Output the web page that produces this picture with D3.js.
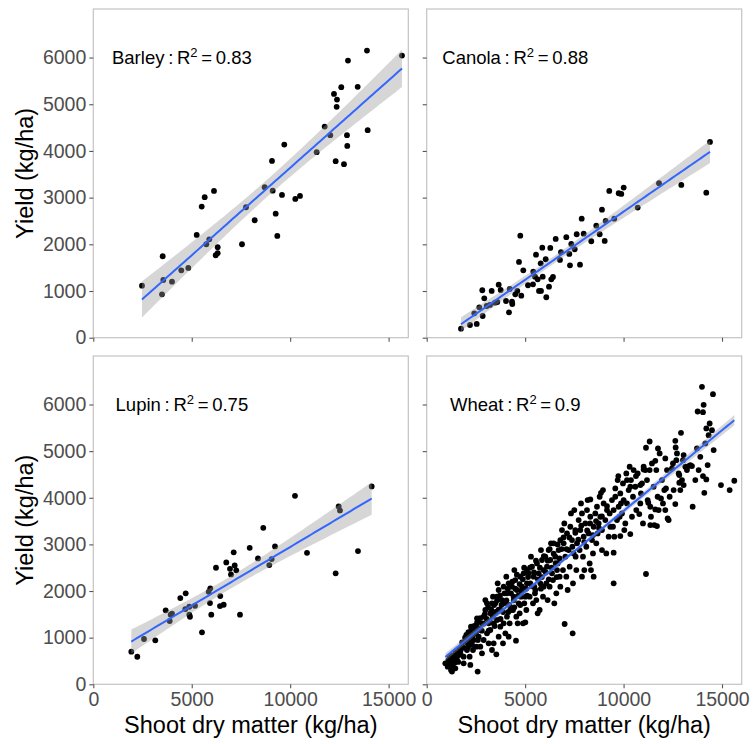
<!DOCTYPE html>
<html><head><meta charset="utf-8">
<script src="https://cdn.jsdelivr.net/npm/d3@7"></script>
<style>body{margin:0;background:#fff} svg text{font-family:"Liberation Sans",Arial,sans-serif}</style>
</head><body><svg id="c" width="755" height="744"></svg>
<script>
const crops = ["Barley", "Canola", "Lupin", "Wheat"];
const r2Labels = ["0.83", "0.88", "0.75", "0.9"];
const xTicks = [0, 5000, 10000, 15000];
const yTicks = [0, 1000, 2000, 3000, 4000, 5000, 6000];
const xTitle = "Shoot dry matter (kg/ha)";
const yTitle = "Yield (kg/ha)";

const barley = [[2473,1114],[3525,1744],[3556,1236],[3490,930],[3997,1200],[4470,1444],[4825,1494],[5252,2201],[5506,2808],[5658,3009],[6130,3144],[5740,2001],[5892,2108],[6318,1937],[6217,1766],[6318,1809],[7553,2001],[7756,2794],[8197,2516],[8705,3223],[9076,3787],[9112,3150],[9264,2657],[9346,2179],[9584,3058],[9701,4136],[10260,2972],[10498,3037],[11346,3973],[11752,4522],[12037,4337],[12225,5222],[12378,5101],[12361,4944],[12595,5366],[12311,3780],[12733,3716],[12885,4337],[12900,4108],[12936,5936],[13429,5373],[13901,6150],[13937,4445],[15679,6043]];

const canola = [[1742,193],[2199,272],[2540,294],[2418,523],[2844,465],[2672,651],[2926,844],[2824,1016],[3215,701],[3301,1001],[3586,765],[3657,1136],[3758,1022],[4028,786],[4180,544],[4216,1044],[4333,771],[4348,722],[4500,930],[4602,1001],[4805,900],[4688,1622],[4754,2186],[4906,1444],[5145,1123],[5399,1144],[5414,1414],[5501,1307],[5552,1779],[5638,1251],[5704,1001],[5790,1594],[5805,1001],[5871,1929],[5892,1307],[6044,1680],[6075,866],[6212,1093],[6278,1922],[6329,1251],[6415,1301],[6552,2115],[6770,1665],[6821,1830],[7091,2152],[7243,1794],[7278,1551],[7344,2008],[7517,1894],[7619,2216],[7786,1564],[7873,2550],[7974,2229],[8360,2066],[8614,2400],[8787,2216],[8903,2743],[9041,2072],[9091,2501],[9274,3144],[9528,2550],[9752,3094],[9884,3080],[10006,3215],[10717,2786],[11799,3309],[12932,3272],[14201,3107],[14389,4194],[3047,679],[3469,750]];

const lupin = [[1930,699],[2235,591],[2575,971],[3149,943],[3677,1586],[3880,1357],[3997,1513],[3931,1492],[4419,1849],[4693,1950],[4673,1614],[4876,1663],[4911,1449],[4876,1492],[5165,1684],[5521,1114],[5861,1984],[5943,2057],[5927,1742],[5993,1492],[6450,1892],[6435,1678],[6623,1706],[6232,2499],[6755,2614],[6943,2477],[6994,2357],[7131,2829],[7182,2550],[7263,2443],[7451,1492],[7944,2927],[8365,2700],[8634,3356],[8939,2557],[9061,2685],[9229,2957],[10244,4042],[10854,2820],[12311,2379],[12463,3815],[12530,3729],[13444,2857],[14140,4243]];

const wheat = [
[13982,6379],[14541,6222],[14067,5993],[13762,5850],[14033,5836],[14372,5593],[14203,5486],[12916,5393],[12628,5222],[11324,5207],[11138,5072],[12645,5079],[11747,5057],[14575,5022],[13051,4915],[12120,4843],[11612,4793],[12509,4736],[10308,4665],[11019,4607],[11324,4593],[13305,4679],[13474,4679],[12831,4486],[14033,4465],[14203,4393],[15624,4365],[14947,4272],[15387,4165],[14101,4107],[9733,4465],[10173,4379],[10630,4465],[12154,4200],[12831,4322],[13051,4272],[8853,4107],[9580,4200],[10342,4236],[10850,4272],[8311,3965],[9157,3822],[9868,3879],[11256,3893],[11900,3986],[12628,3865],[13508,3807],[10799,3650],[11612,3750],[12238,3557],[11358,3414],[11697,3393],[10342,3222],[9834,3179],[9496,2822],[8903,2879],[11138,2365],[9496,2165],[7007,1293],[7413,1093],[2588,272],[2216,415],[3537,643],[4535,936],[5009,1329],
[946,450],[1065,379],[1200,522],[1285,272],[1369,450],[1166,593],[1539,522],[1623,629],[1708,700],[1454,343],[1234,307],[1115,486],
[1793,807],[1877,593],[1962,915],[2047,736],[2131,1022],[2216,879],[2301,1093],[2385,950],[2470,1164],[1877,450],[2182,593],[2351,736],[2521,807],[2013,1057],[2250,1236],[2555,1307],[2555,1414],
[2639,1022],[2724,1165],[2808,1307],[2893,1450],[2978,1593],[3062,1736],[3147,1307],[3232,1522],[3316,1736],[2724,807],[2893,950],[3062,1093],[3232,1165],[3401,1307],[3147,879],[3401,879],[2808,664],[3316,736],[2978,1807],[3367,1879],
[3486,1736],[3570,1879],[3655,2022],[3740,1593],[3824,1807],[3909,2093],[3994,1736],[4078,1950],[4163,2165],[4248,1593],[3570,1379],[3740,1236],[3909,1307],[4078,1450],[4214,1307],[3655,1022],[3994,1093],[4163,1022],[3875,879],[3486,1522],[4044,2307],[3604,2165],
[4332,2093],[4417,1879],[4501,2236],[4586,2022],[4671,1736],[4755,2307],[4840,2093],[4925,2379],[5009,1879],[5094,2165],[4383,1593],[4552,1450],[4722,1522],[4891,1307],[5060,1593],[4451,2450],[4958,1736],[4789,1879],[4620,1307],[5094,2450],
[5179,2379],[5263,2165],[5348,2522],[5433,2307],[5517,2022],[5602,2593],[5687,2379],[5771,2165],[5856,2665],[5941,2450],[5229,1879],[5399,1736],[5568,1807],[5737,1593],[5907,1879],[5297,2736],[5805,2879],[5466,2093],[5636,1522],[5941,2093],
[6025,2736],[6110,2522],[6194,2879],[6279,2665],[6364,2379],[6448,3022],[6533,2736],[6618,2450],[6702,2879],[6787,3093],[6076,2165],[6245,2093],[6415,2236],[6584,1950],[6753,2307],[6143,1807],[6313,3022],[6651,2593],[6482,1736],[6787,2093],
[6872,3307],[6956,3022],[7041,2736],[7126,3236],[7210,2879],[7295,3379],[7380,3093],[7464,2807],[7549,3307],[7634,3022],[6922,2450],[7092,2307],[7261,2522],[7430,2165],[7600,2450],[6990,3450],[7329,3665],[7498,3736],[7159,2022],[7566,2736],
[7718,3522],[7803,3307],[7887,3665],[7972,3165],[8057,3450],[8141,3736],[8226,3236],[8311,3593],[8395,3093],[8480,3379],[7769,2879],[7938,2736],[8107,2950],[8277,2593],[8446,2807],[7837,3879],[8175,3950],[8345,2450],[8006,2450],[8480,2307],[7887,2307],
[8565,3665],[8649,3807],[8734,3450],[8819,3593],[8903,3307],[8988,3879],[9073,3522],[9157,3736],[9242,3165],[9327,3379],[8615,3022],[8785,4022],[8954,4165],[9123,2807],[9293,3665],[8683,3236],
[9411,3950],[9496,3736],[9580,4022],[9665,3522],[9750,3807],[9834,4093],[9919,3665],[10004,3950],[10088,3450],[10173,3879],[9462,3379],[9970,4307],[10139,4522],[9699,4379],[9530,3165],[10037,3307],[9801,3593],
[10258,4165],[10376,4379],[10478,4022],[10596,4236],[10715,4522],[10850,3879],[10935,4307],[11019,4665],[10647,3736],[10427,3593],[10884,4093],[10986,3450],[10511,4593],
[11104,4593],[11189,4379],[11223,3950],[11358,3807],[11443,4736],[11527,4236],[11663,4593],[11781,3736],[11832,4950],[11392,3593],[11561,3415],[11730,4022],
[11951,4379],[12069,4165],[12205,4593],[12340,4022],[12459,4629],[12543,4165],[12679,4807],[12797,4522],[12882,4165],[12967,4379],[13136,4665],[13220,4593],[13390,4700],[12120,3736],[12290,3522],[12001,3879],[12713,4950],[13017,4807],
[13728,5057],[13897,4879],[14151,5165],[14321,5343],[14490,5450],[13813,4593],[14270,4700],[13644,4379],
[1100,520],[1180,430],[1250,560],[1320,620],[1400,560],[1480,690],[1560,610],[1650,760],[1720,640],[1800,900],[1880,780],[1950,1000],[1300,380],[1420,470],[1600,480],
[2050,900],[2120,1120],[2200,980],[2280,1180],[2350,1050],[2420,1250],[2500,1100],[2580,1350],[2650,1200],[2720,1420],[2800,1150],[2880,1300],[2950,1500],[2100,800],[2300,850],[2600,950],
[3050,1400],[3120,1650],[3200,1350],[3280,1600],[3350,1450],[3420,1700],[3500,1550],[3580,1800],[3650,1600],[3720,1900],[3800,1700],[3880,1550],[3950,1950],[3150,1150],[3450,1250],[3750,1400],
[4050,1800],[4120,2050],[4200,1700],[4280,1950],[4350,2200],[4420,1800],[4500,2050],[4580,2350],[4650,1900],[4720,2150],[4800,2000],[4880,2250],[4950,2500],[4150,1550],[4450,1650],[4750,1700],
[5050,2050],[5150,2300],[5250,2500],[5350,2100],[5450,2400],[5550,2650],[5650,2250],[5750,2500],[5850,2300],[5950,2750],[5100,1900],[5500,1950],[5800,2050],
[6050,2400],[6150,2650],[6250,2900],[6350,2500],[6450,2800],[6550,2600],[6650,3000],[6750,2700],[6850,2900],[6950,3150],[6200,2250],[6600,2300],
[7100,2900],[7250,3150],[7400,2950],[7550,3250],[7700,3100],[7850,3400],[8000,3050],[8150,3300],[8300,3450],[8450,3200],[8600,3500],[8750,3350],[8900,3600]
];

const datasets = [barley, canola, lupin, wheat];

const svg = d3.select("#c");
const cols = [[93.3, 408.3], [426.7, 741.7]];
const rows = [[9, 337.7], [356, 684.3]];
const xDomain = [0, 16000], yDomain = [0, 7040];

function tq(df) {
  const z = 1.959964;
  return z + (z**3 + z) / (4 * df) + (5 * z**5 + 16 * z**3 + 3 * z) / (96 * df * df)
    + (3 * z**7 + 19 * z**5 + 17 * z**3 - 15 * z) / (384 * df ** 3);
}
function lmFit(pts) {
  const n = pts.length;
  const mx = d3.mean(pts, d => d[0]), my = d3.mean(pts, d => d[1]);
  let sxx = 0, sxy = 0;
  pts.forEach(d => { sxx += (d[0] - mx) ** 2; sxy += (d[0] - mx) * (d[1] - my); });
  const b = sxy / sxx, a = my - b * mx;
  let sse = 0;
  pts.forEach(d => { sse += (d[1] - a - b * d[0]) ** 2; });
  const s = Math.sqrt(sse / (n - 2));
  const t = tq(n - 2);
  const [x0, x1] = d3.extent(pts, d => d[0]);
  return d3.range(81).map(i => {
    const xv = x0 + (x1 - x0) * i / 80;
    const yv = a + b * xv;
    const se = s * Math.sqrt(1 / n + (xv - mx) ** 2 / sxx);
    return { x: xv, y: yv, lo: yv - t * se, hi: yv + t * se };
  });
}

datasets.forEach((pts, i) => {
  const c = i % 2, r = Math.floor(i / 2);
  const x = d3.scaleLinear().domain(xDomain).range(cols[c]);
  const y = d3.scaleLinear().domain(yDomain).range([rows[r][1], rows[r][0]]);
  const g = svg.append("g");

  g.append("g").selectAll("circle").data(pts).join("circle")
    .attr("cx", d => x(d[0])).attr("cy", d => y(d[1])).attr("r", 2.9).attr("fill", "#000");

  const f = lmFit(pts);
  g.append("path").datum(f)
    .attr("d", d3.area().x(d => x(d.x)).y0(d => y(d.lo)).y1(d => y(d.hi)))
    .attr("fill", "#999999").attr("fill-opacity", 0.4);
  g.append("path").datum(f)
    .attr("d", d3.line().x(d => x(d.x)).y(d => y(d.y)))
    .attr("fill", "none").attr("stroke", "#3366FF").attr("stroke-width", 2);

  g.append("rect").attr("x", cols[c][0]).attr("y", rows[r][0])
    .attr("width", cols[c][1] - cols[c][0]).attr("height", rows[r][1] - rows[r][0])
    .attr("fill", "none").attr("stroke", "#c4c4c4").attr("stroke-width", 1.2);

  const ay = g.append("g").attr("transform", `translate(${cols[c][0]},0)`)
    .call(d3.axisLeft(y).tickValues(yTicks).tickSize(4).tickPadding(3)
      .tickFormat(c === 0 ? d3.format("d") : () => ""));
  const ax = g.append("g").attr("transform", `translate(0,${rows[r][1]})`)
    .call(d3.axisBottom(x).tickValues(xTicks).tickSize(4).tickPadding(4)
      .tickFormat(r === 1 ? d3.format("d") : () => ""));
  [ax, ay].forEach(a => {
    a.select(".domain").remove();
    a.selectAll("line").attr("stroke", "#555").attr("stroke-width", 1.1);
    a.selectAll("text").attr("fill", "#4d4d4d").attr("font-size", 19.5)
      .attr("font-family", '"Liberation Sans", Arial, sans-serif');
  });

  const lab = g.append("text").attr("x", x(4500)).attr("y", y(6000) + 6.6)
    .attr("text-anchor", "middle").attr("font-size", 18.5).attr("fill", "#000");
  lab.append("tspan").text(`${crops[i]}\u2009:\u2009R`);
  lab.append("tspan").attr("dy", -7.5).attr("font-size", 13).text("2");
  lab.append("tspan").attr("dy", 7.5).text(`\u2009=\u2009${r2Labels[i]}`);

  if (c === 0) {
    svg.append("text").attr("transform", `translate(32.5,${(rows[r][0] + rows[r][1]) / 2}) rotate(-90)`)
      .attr("text-anchor", "middle").attr("font-size", 23.5).attr("fill", "#000").text(yTitle);
  }
  if (r === 1) {
    svg.append("text").attr("x", (cols[c][0] + cols[c][1]) / 2).attr("y", 732.5)
      .attr("text-anchor", "middle").attr("font-size", 23.5).attr("fill", "#000").text(xTitle);
  }
});
</script></body></html>
